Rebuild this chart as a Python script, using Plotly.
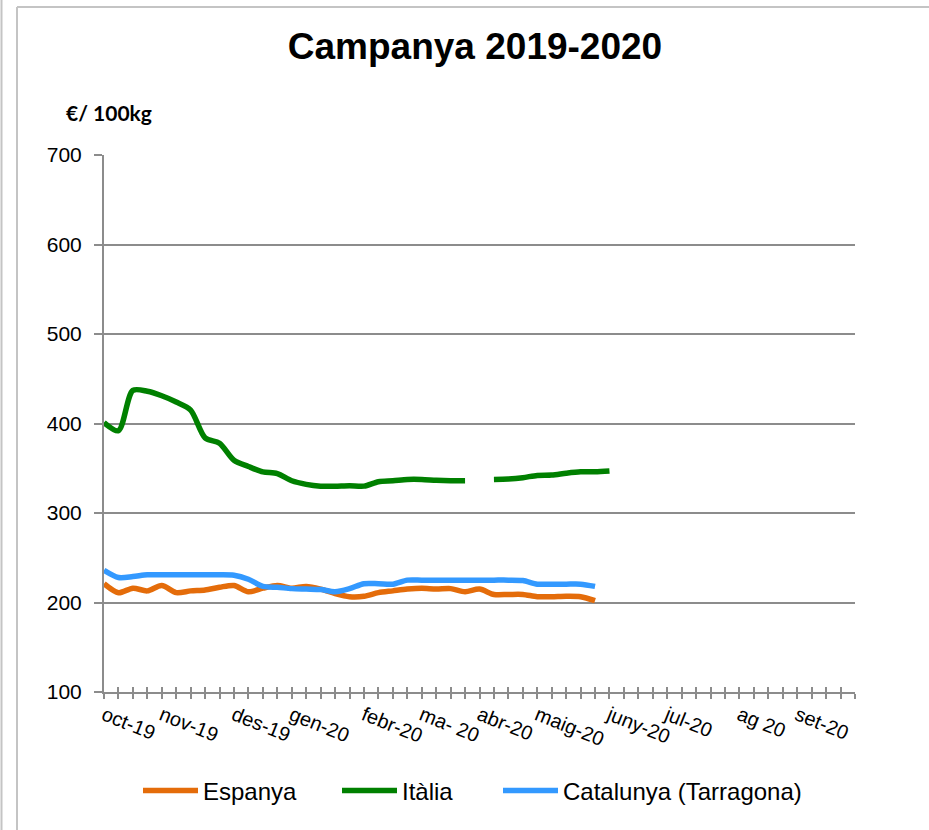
import plotly.graph_objects as go

# setmanes de la campanya (oct-19 .. set-20)
weeks = list(range(53))
month_labels = ["oct-19", "nov-19", "des-19", "gen-20", "febr-20", "ma- 20",
                "abr-20", "maig-20", "juny-20", "jul-20", "ag 20", "set-20"]
month_weeks = [0, 4, 9, 13, 18, 22, 26, 30, 35, 39, 44, 48]

espanya = [221, 211, 216, 213, 219, 211, 213, 214, 217, 219, 212, 216,
           219, 216, 218, 215, 210, 206.5, 207, 211, 213, 215, 216, 215,
           215.5, 212, 215, 209, 209, 209, 206.5, 206.5, 207, 206.5, 202]
italia = [401, 392, 437, 436, 431, 424, 415, 384, 378, 359, 352, 346,
          344, 336, 332, 330, 330, 330.5, 330, 335, 336, 337.5, 337.5, 336.5,
          336, 336, None, 337.5, 338, 339.5, 342, 342.5, 344.5, 346, 346, 347]
catalunya = [236, 228, 229, 231, 231, 231, 231, 231, 231, 230.5, 226, 218,
             217, 215.5, 215, 214.5, 212, 215.5, 221, 221, 220.5, 225, 225, 225,
             225, 225, 225, 225, 225, 224.5, 220.5, 220.5, 220.5, 220.5, 218]

series = [
    ("Espanya", espanya, "#E46C0A", "legend", 138),
    ("Itàlia", italia, "#008000", "legend2", 337),
    ("Catalunya (Tarragona)", catalunya, "#3399FF", "legend3", 498),
]

GRID = "#8C8C8C"
FONT = "Liberation Sans, Arial, sans-serif"

# àrea del gràfic en píxels
L, R, T, B = 104, 855, 155, 692
def px_x(p):
    return (p - L) / (R - L)
def px_y(p):
    return (B - p) / (B - T)

fig = go.Figure()
legends = {}
for name, vals, color, leg, lx in series:
    fig.add_trace(go.Scatter(
        x=weeks[:len(vals)],
        y=vals,
        mode="lines",
        name=name,
        legend=leg,
        line=dict(color=color, width=5.5, shape="spline", smoothing=0.8),
        connectgaps=False,
    ))
    legends[leg] = dict(
        orientation="h",
        x=px_x(lx), xanchor="left",
        y=px_y(791), yanchor="middle",
        font=dict(family=FONT, size=24, color="black"),
        itemwidth=55,
        bgcolor="rgba(0,0,0,0)",
    )

tick_text = ["" for _ in weeks]
for w, lab in zip(month_weeks, month_labels):
    tick_text[w] = lab

shapes = [
    dict(type="line", xref="paper", yref="paper", x0=px_x(1.5), x1=px_x(1.5),
         y0=px_y(0), y1=px_y(835), line=dict(color="#C4C4C4", width=2)),
    dict(type="line", xref="paper", yref="paper", x0=px_x(17), x1=px_x(17),
         y0=px_y(7), y1=px_y(835), line=dict(color="#C4C4C4", width=2)),
    dict(type="line", xref="paper", yref="paper", x0=px_x(17), x1=px_x(940),
         y0=px_y(7), y1=px_y(7), line=dict(color="#C4C4C4", width=2)),
]

fig.update_layout(
    width=929,
    height=830,
    paper_bgcolor="white",
    plot_bgcolor="white",
    margin=dict(l=L, r=929 - R, t=T, b=830 - B, pad=0),
    title=dict(
        text="<b>Campanya 2019-2020</b>",
        x=px_x(475), xref="paper", xanchor="center",
        y=1 - 46 / 830, yref="container", yanchor="middle",
        font=dict(family=FONT, size=37, color="black"),
    ),
    xaxis=dict(
        range=[0, 52],
        tickmode="array",
        tickvals=weeks,
        ticktext=tick_text,
        tickangle=22,
        ticks="outside",
        ticklen=5,
        tickwidth=2,
        tickcolor=GRID,
        showline=True,
        linecolor=GRID,
        linewidth=2,
        showgrid=False,
        zeroline=False,
        tickfont=dict(family=FONT, size=20, color="black"),
        ticklabelstandoff=-3,
    ),
    xaxis2=dict(
        overlaying="x",
        anchor="y",
        side="bottom",
        range=[0, 52],
        tickmode="array",
        tickvals=weeks,
        ticks="inside",
        ticklen=5,
        tickwidth=2,
        tickcolor=GRID,
        showticklabels=False,
        showline=False,
        showgrid=False,
        zeroline=False,
    ),
    yaxis=dict(
        range=[100, 700],
        tickvals=[100, 200, 300, 400, 500, 600, 700],
        ticks="outside",
        ticklen=8,
        tickwidth=2,
        tickcolor=GRID,
        showline=True,
        linecolor=GRID,
        linewidth=2,
        showgrid=True,
        gridcolor=GRID,
        gridwidth=1.5,
        zeroline=False,
        tickfont=dict(family=FONT, size=21, color="black"),
        ticklabelstandoff=8,
    ),
    shapes=shapes,
    annotations=[dict(
        text="<b>€/ 100kg</b>",
        xref="paper", yref="paper",
        x=px_x(64), y=px_y(113),
        xanchor="left", yanchor="middle",
        showarrow=False,
        font=dict(family="Lato, Open Sans, sans-serif", size=21, color="black"),
    )],
    **legends,
)

# eix secundari només per a les marques interiors
fig.add_trace(go.Scatter(x=[0], y=[None], xaxis="x2", showlegend=False,
                         hoverinfo="skip", mode="lines"))

fig.write_html("out.html", config={"displayModeBar": False},
               post_script="document.body.style.margin='0px';")
